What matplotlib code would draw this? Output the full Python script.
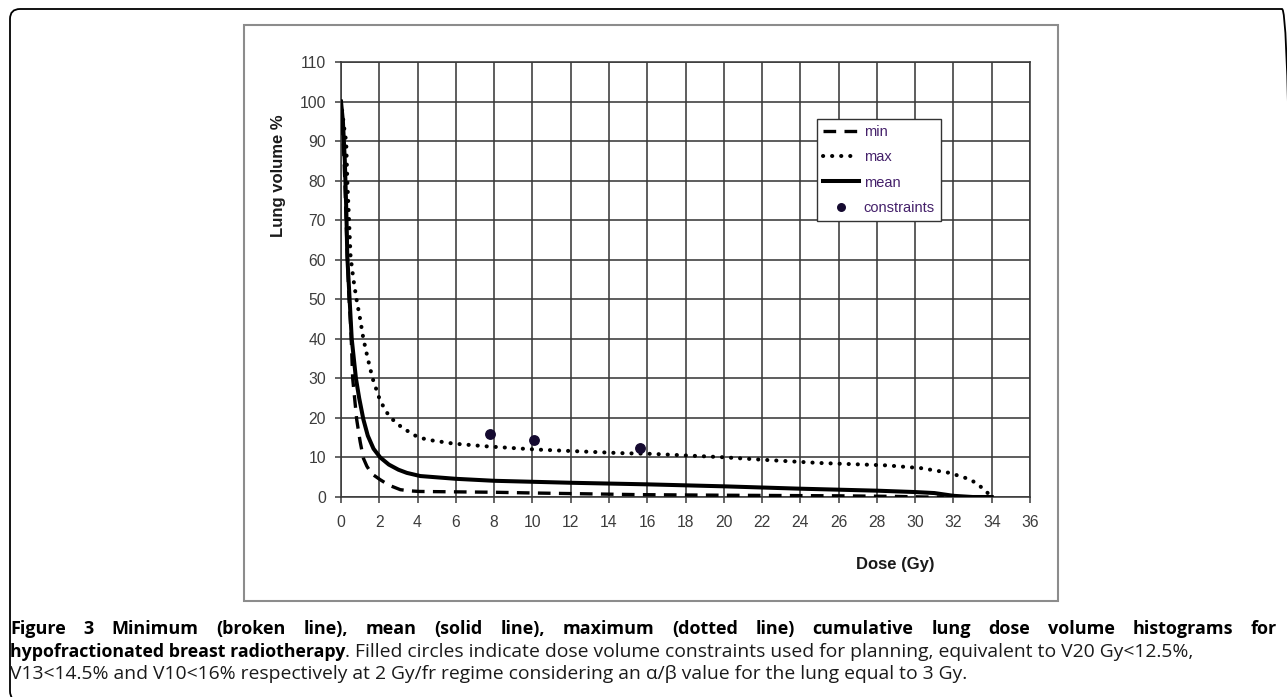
import matplotlib
matplotlib.use("Agg")
import matplotlib.pyplot as plt
from matplotlib.patches import Rectangle, FancyBboxPatch
from matplotlib.transforms import IdentityTransform

W, H = 1287, 697

# cumulative DVH curves (dose in Gy, lung volume in %)
min_dose = [0, 0.1, 0.2, 0.3, 0.4, 0.52, 0.61, 0.82, 1.0, 1.17, 1.35, 1.6,
            2.04, 2.5, 3.1, 3.6, 4.1, 6, 8, 10.2, 15.5, 19.9, 26, 29, 30.5,
            31.5]
min_vol = [100, 92, 80, 65, 52, 42, 30, 19.6, 14, 9.8, 7.8, 5.9,
           4.4, 3.0, 1.85, 1.55, 1.4, 1.3, 1.2, 1.0, 0.6, 0.45, 0.3, 0.15,
           0.0, 0.0]

max_dose = [0, 0.05, 0.2, 0.27, 0.33, 0.42, 0.5, 0.65, 0.81, 1.0, 1.17, 1.4,
            1.65, 2.0, 2.3, 2.6, 3.2, 3.96, 4.49, 5.88, 7.63, 10.2, 14.6,
            16.3, 19.8, 22.1, 25.0, 28.5, 30.3, 31.8, 32.9, 33.4, 33.75, 34.0]
max_vol = [100, 98, 92, 90, 80, 70, 60.8, 55, 50, 45, 40, 35,
           30, 25, 22, 20, 17.5, 15.3, 14.5, 13.5, 12.8, 12.0, 11.1,
           10.9, 10.1, 9.4, 8.6, 8.0, 7.3, 6.1, 4.4, 2.7, 1.2, 0]

mean_dose = [0, 0.1, 0.2, 0.28, 0.33, 0.45, 0.56, 0.78, 0.95, 1.17, 1.4,
             1.7, 2.05, 2.5, 3.0, 3.44, 4.14, 6, 8, 12, 16, 20, 24, 28, 30,
             31, 32, 33, 34]
mean_vol = [100, 95, 85, 72, 60.8, 50, 40, 30, 25, 19.6, 15.5,
            12.2, 10, 8.2, 6.9, 6.1, 5.3, 4.6, 4.1, 3.6, 3.2, 2.7, 2.1, 1.6,
            1.25, 1.0, 0.3, 0, 0]

constraint_dose = [7.8, 10.1, 15.6]
constraint_vol = [16, 14.5, 12.5]

x_ticks = list(range(0, 37, 2))
y_ticks = list(range(0, 111, 10))

caption_1 = ("Figure 3 Minimum (broken line), mean (solid line), maximum "
             "(dotted line) cumulative lung dose volume histograms for")
caption_2_bold = "hypofractionated breast radiotherapy"
caption_2 = (". Filled circles indicate dose volume constraints used for "
             "planning, equivalent to V20 Gy<12.5%,")
caption_3 = ("V13<14.5% and V10<16% respectively at 2 Gy/fr regime "
             "considering an \u03b1/\u03b2 value for the lung equal to 3 Gy.")

plt.rcParams["font.family"] = ["Liberation Sans", "DejaVu Sans"]

fig = plt.figure(figsize=(W / 100, H / 100), dpi=100)
fig.patch.set_facecolor("white")

# outer rounded frame and inner chart frame (pixel coordinates)
outer = FancyBboxPatch((10, -4), 1282, 692,
                       boxstyle="round,pad=0,rounding_size=10",
                       transform=IdentityTransform(), facecolor="none",
                       edgecolor="black", linewidth=1.3)
fig.patches.append(outer)
inner = Rectangle((244, H - 601), 814, 576, transform=IdentityTransform(),
                  facecolor="none", edgecolor="#8c8c8c", linewidth=1.5)
fig.patches.append(inner)

ax = fig.add_axes([341 / W, 1 - 497 / H, (1030 - 341) / W, (497 - 62) / H])

grid_col = "#3a3a3a"
ax.plot(min_dose, min_vol, color="black", lw=2.4,
        linestyle=(0, (3.8, 2.5)), label="min", zorder=3)
ax.plot(max_dose, max_vol, color="black", lw=2.9,
        linestyle=(0, (0.05, 2.2)), dash_capstyle="round", label="max",
        zorder=3)
ax.plot(mean_dose, mean_vol, color="black", lw=2.9, label="mean", zorder=3)
ax.plot(constraint_dose, constraint_vol, linestyle="none", marker="o",
        markersize=6.8, color="#150a30", label="constraints", zorder=4)

ax.set_xlim(0, 36)
ax.set_ylim(0, 110)
ax.set_xticks(x_ticks)
ax.set_yticks(y_ticks)
ax.grid(True, color=grid_col, linewidth=1.15)
ax.set_axisbelow(True)
for s in ax.spines.values():
    s.set_color(grid_col)
    s.set_linewidth(1.15)
ax.tick_params(axis="both", direction="out", length=4.3, width=1.1,
               color=grid_col, labelsize=11.3, labelcolor="#3c3c3c")
ax.tick_params(axis="x", pad=9)
ax.tick_params(axis="y", pad=6.5)

leg = ax.legend(loc="upper left", bbox_to_anchor=(0.691, 0.869),
                borderaxespad=0, fontsize=10.5, frameon=True, fancybox=False,
                edgecolor="#333333", framealpha=1, handlelength=2.5,
                handletextpad=0.3, labelspacing=0.78, borderpad=0.4,
                markerscale=0.8)
leg.get_frame().set_linewidth(1.0)
for t in leg.get_texts():
    t.set_color("#44206a")

fig.text(278 / W, 1 - 176 / H, "Lung volume %", rotation=90, fontsize=12,
         fontweight="bold", ha="center", va="center", color="#1a1a1a")
fig.text(895 / W, 1 - 565 / H, "Dose (Gy)", fontsize=12, fontweight="bold",
         ha="center", va="center", color="#1a1a1a")

# caption
cap_font = ["Open Sans", "DejaVu Sans"]
renderer = fig.canvas.get_renderer()

# first line is justified between the frame margins
words = caption_1.split()
objs = []
for w in words:
    t = fig.text(0, 1 - 634 / H, w, fontsize=13, fontweight="bold",
                 family=cap_font, va="baseline", ha="left")
    objs.append(t)
widths = [o.get_window_extent(renderer).width for o in objs]
gap = (1277 - 10 - sum(widths)) / (len(words) - 1)
x = 10
for o, wd in zip(objs, widths):
    o.set_x(x / W)
    x += wd + gap

b = fig.text(10 / W, 1 - 657 / H, caption_2_bold, fontsize=12.8,
             fontweight="bold", family=cap_font, va="baseline", ha="left")
bw = b.get_window_extent(renderer).width
fig.text((10 + bw) / W, 1 - 657 / H, caption_2, fontsize=13.9,
         family=cap_font, va="baseline", ha="left", color="#1a1a1a")
fig.text(10 / W, 1 - 679 / H, caption_3, fontsize=13.9,
         family=cap_font, va="baseline", ha="left", color="#1a1a1a")

fig.savefig("out.png", dpi=100)
